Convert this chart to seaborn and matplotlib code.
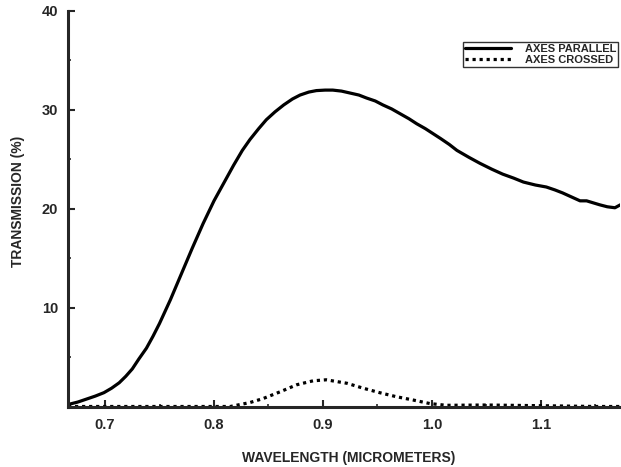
import matplotlib
matplotlib.use("Agg")
import matplotlib.pyplot as plt
import seaborn as sns
import pandas as pd
from matplotlib.ticker import MultipleLocator, FixedLocator

# Data
par_x = [0.666, 0.675, 0.683, 0.691, 0.699, 0.706, 0.713, 0.719, 0.725, 0.731,
         0.738, 0.744, 0.750, 0.760, 0.770, 0.780,
         0.790, 0.800, 0.810, 0.818, 0.826, 0.833, 0.841, 0.848,
         0.856, 0.864, 0.872, 0.879, 0.887, 0.894, 0.902, 0.909, 0.917, 0.925,
         0.933, 0.940, 0.948, 0.955, 0.963, 0.971, 0.979, 0.986, 0.994, 1.001,
         1.008, 1.016, 1.023, 1.034, 1.044, 1.055, 1.065, 1.075, 1.084, 1.095,
         1.105, 1.113, 1.120, 1.128, 1.136, 1.142, 1.148, 1.154, 1.161, 1.168,
         1.173]
par_y = [0.2, 0.45, 0.75, 1.05, 1.4, 1.85, 2.4, 3.05, 3.8, 4.8,
         5.9, 7.1, 8.4, 10.8, 13.4, 16.0,
         18.5, 20.8, 22.8, 24.4, 25.9, 27.0, 28.1, 29.0,
         29.8, 30.5, 31.1, 31.5, 31.8, 31.95, 32.0, 32.0, 31.9, 31.7,
         31.5, 31.2, 30.9, 30.5, 30.1, 29.6, 29.1, 28.6, 28.1, 27.6,
         27.1, 26.5, 25.9, 25.2, 24.6, 24.0, 23.5, 23.1, 22.7, 22.4,
         22.2, 21.9, 21.6, 21.2, 20.8, 20.8, 20.6, 20.4, 20.2, 20.1,
         20.4]
crs_x = [0.666, 0.75, 0.815, 0.833, 0.845, 0.861, 0.876, 0.891, 0.903, 0.922,
         0.937, 0.952, 0.967, 0.983, 0.998, 1.013, 1.05, 1.10, 1.15, 1.173]
crs_y = [0.0, 0.0, 0.0, 0.4, 0.8, 1.5, 2.2, 2.6, 2.7, 2.35,
         1.85, 1.4, 1.0, 0.65, 0.3, 0.12, 0.15, 0.08, 0.0, 0.0]
x_ticks = [0.7, 0.8, 0.9, 1.0, 1.1]
x_labels = ["0.7", "0.8", "0.9", "1.0", "1.1"]
y_ticks = [10, 20, 30, 40]
series_names = ["AXES PARALLEL", "AXES CROSSED"]

df = pd.concat([
    pd.DataFrame({"x": par_x, "y": par_y, "s": series_names[0]}),
    pd.DataFrame({"x": crs_x, "y": crs_y, "s": series_names[1]}),
])

sns.set_style("ticks")
plt.rcParams['font.family'] = ['Liberation Sans', 'DejaVu Sans']

fig = plt.figure(figsize=(6.21, 4.67), dpi=100)
ax = fig.add_axes([68/621, 60.5/467, 1 - 68/621 - 0.001, (406.5-11)/467])

sns.lineplot(data=df, x="x", y="y", hue="s", style="s",
             palette=["black", "black"],
             dashes={series_names[0]: "", series_names[1]: (1, 1.2)},
             linewidth=2.3, ax=ax, sort=False, estimator=None)

ax.set_xlim(0.666, 1.173)
ax.set_ylim(0, 40)
ax.xaxis.set_major_locator(FixedLocator(x_ticks))
ax.set_xticklabels(x_labels)
ax.xaxis.set_minor_locator(MultipleLocator(0.05))
ax.yaxis.set_major_locator(FixedLocator(y_ticks))
ax.yaxis.set_minor_locator(MultipleLocator(5))
ax.tick_params(which="major", direction="in", length=5, width=1.5,
               labelsize=10.5)
ax.tick_params(which="minor", direction="in", length=2.5, width=1.2)
ax.tick_params(axis="x", pad=8)
ax.tick_params(axis="y", pad=7)
for lab in ax.get_xticklabels() + ax.get_yticklabels():
    lab.set_fontweight("bold")

for side in ["top", "right"]:
    ax.spines[side].set_visible(False)
for side in ["left", "bottom"]:
    ax.spines[side].set_linewidth(2.2)

ax.set_xlabel("WAVELENGTH (MICROMETERS)", fontsize=10, fontweight="bold")
ax.set_ylabel("TRANSMISSION (%)", fontsize=10, fontweight="bold")
ax.xaxis.set_label_coords(0.508, -0.112)
ax.yaxis.set_label_coords(-0.077, 0.518)

leg = ax.legend(loc="upper right", bbox_to_anchor=(0.995, 0.921), fontsize=8,
                frameon=True, fancybox=False, edgecolor="black",
                handlelength=4.2, handletextpad=1.2, borderpad=0.15,
                labelspacing=0.1, borderaxespad=0)
leg.get_frame().set_linewidth(1.0)
for t in leg.get_texts():
    t.set_fontweight("bold")

fig.savefig("out.png", dpi=100)
